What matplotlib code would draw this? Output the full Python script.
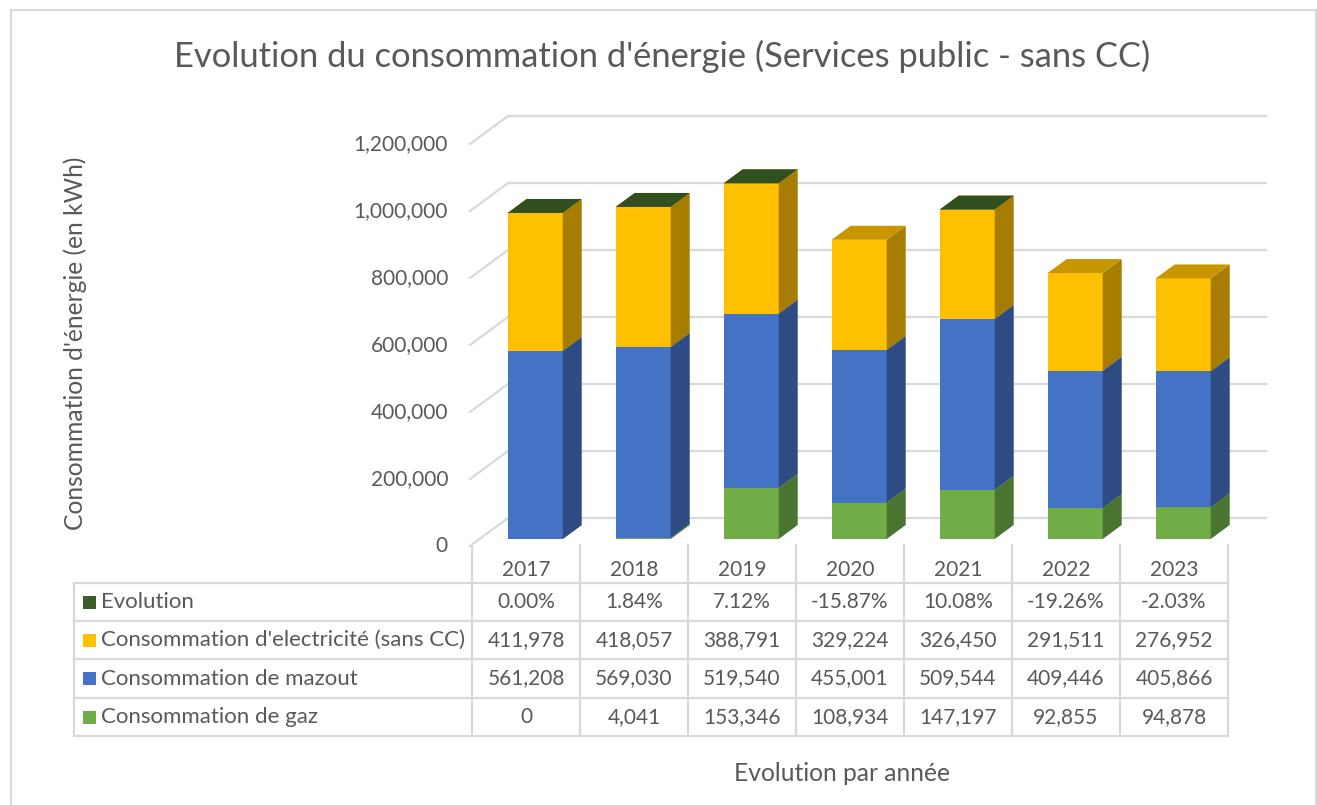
import matplotlib.pyplot as plt
from matplotlib.patches import Polygon, Rectangle
from matplotlib.lines import Line2D

plt.rcParams['font.family'] = ['Lato', 'DejaVu Sans']

# données
annees = ['2017', '2018', '2019', '2020', '2021', '2022', '2023']
gaz = [0, 4041, 153346, 108934, 147197, 92855, 94878]
mazout = [561208, 569030, 519540, 455001, 509544, 409446, 405866]
electricite = [411978, 418057, 388791, 329224, 326450, 291511, 276952]
evolution = [0.0, 0.0184, 0.0712, -0.1587, 0.1008, -0.1926, -0.0203]

noms = ['Evolution', "Consommation d'electricité (sans CC)",
        'Consommation de mazout', 'Consommation de gaz']
yticks = [0, 200000, 400000, 600000, 800000, 1000000, 1200000]

# couleurs (face, côté, dessus)
c_gaz = ('#70AD47', '#4A7530', '#5E9238')
c_maz = ('#4472C4', '#2E4B84', '#3A62A8')
c_ele = ('#FFC000', '#A67D00', '#C79600')
c_evo = ('#3B5E27', '#2C461D', '#324F20')
gris_txt = '#595959'
gris_grille = '#D9D9D9'

W, H = 1317, 805
fig = plt.figure(figsize=(W / 100, H / 100), dpi=100)

def fx(px):
    return px / W

def fy(py):
    return 1 - py / H

# échelle "pixel" de la zone 3D
PX_CAT = 108.0      # px par catégorie
KWH_PX = 2985.0     # kWh par px
X0 = 472            # bord gauche de la première catégorie
Y0 = 539            # base des barres

ax_l, ax_r, ax_t, ax_b = 440, 1290, 95, 560
ax = fig.add_axes([fx(ax_l), fy(ax_b), fx(ax_r - ax_l), fy(ax_t) - fy(ax_b)])
ax.set_xlim(-0.5 + (ax_l - X0) / PX_CAT, -0.5 + (ax_r - X0) / PX_CAT)
ax.set_ylim((Y0 - ax_b) * KWH_PX, (Y0 - ax_t) * KWH_PX)
ax.axis('off')

# profondeur en unités de données
dx = 19 / PX_CAT
dy = 14 * KWH_PX
back_dx = 36 / PX_CAT
back_dy = 21 * KWH_PX
front_dy = -7 * KWH_PX
front_dx = -2 / PX_CAT
x_end = 6.5 + 38 / PX_CAT

# grille (mur du fond + diagonales)
for v in yticks:
    ax.plot([-0.5 + back_dx, x_end], [v + back_dy, v + back_dy],
            color=gris_grille, lw=1.6, zorder=1)
    ax.plot([-0.5 + front_dx, -0.5 + back_dx], [v + front_dy, v + back_dy],
            color=gris_grille, lw=1.6, zorder=1)
    ax.text(-0.5 + (448 - X0) / PX_CAT, v + front_dy, f'{v:,}',
            ha='right', va='center', fontsize=15, color=gris_txt)

def boite(xc, y0, y1, cols, larg=0.51, dessus=True):
    x0, x1 = xc - larg / 2, xc + larg / 2
    ax.add_patch(Polygon([(x0, y0), (x1, y0), (x1, y1), (x0, y1)],
                         closed=True, fc=cols[0], ec='none', zorder=3))
    ax.add_patch(Polygon([(x1, y0), (x1 + dx, y0 + dy), (x1 + dx, y1 + dy), (x1, y1)],
                         closed=True, fc=cols[1], ec='none', zorder=3))
    if dessus:
        ax.add_patch(Polygon([(x0, y1), (x1, y1), (x1 + dx, y1 + dy), (x0 + dx, y1 + dy)],
                             closed=True, fc=cols[2], ec='none', zorder=3))

series = [(gaz, c_gaz), (mazout, c_maz), (electricite, c_ele), (evolution, c_evo)]
for i in range(len(annees)):
    xc = i + 0.085
    pos = 0.0
    for vals, cols in series:
        v = vals[i]
        if v < 0:
            continue
        boite(xc, pos, pos + v, cols)
        pos += v

# cadre extérieur
fig.add_artist(Rectangle((fx(11), fy(810)), fx(1316 - 11), fy(10) - fy(810),
                         transform=fig.transFigure, fill=False,
                         ec=gris_grille, lw=1.5))

# titre et axes
fig.text(fx(662), fy(56), "Evolution du consommation d'énergie (Services public - sans CC)",
         ha='center', va='center', fontsize=24.8, color=gris_txt)
fig.text(fx(75), fy(343), "Consommation d'énergie (en kWh)", rotation=90,
         ha='center', va='center', fontsize=17.7, color=gris_txt)
fig.text(fx(842), fy(773), 'Evolution par année',
         ha='center', va='center', fontsize=17.7, color=gris_txt)

# table de données
col_x = [X0 + PX_CAT * k for k in range(len(annees) + 1)]
rows_y = [583, 621, 659, 698, 736]
tab_l = 74

def ligne(xs, ys):
    fig.add_artist(Line2D([fx(v) for v in xs], [fy(v) for v in ys],
                          color=gris_grille, lw=1.6, transform=fig.transFigure))

for y in rows_y:
    ligne([tab_l, col_x[-1]], [y, y])
ligne([tab_l, tab_l], [rows_y[0], rows_y[-1]])
for x in col_x:
    ligne([x, x], [545, rows_y[-1]])

for k, a in enumerate(annees):
    fig.text(fx(col_x[k] + PX_CAT / 2), fy(570), a, ha='center', va='center',
             fontsize=15, color=gris_txt)

tab_vals = [[f'{v * 100:.2f}%' for v in evolution],
            [f'{v:,}' for v in electricite],
            [f'{v:,}' for v in mazout],
            [f'{v:,}' for v in gaz]]
leg_cols = [c_evo[0], c_ele[0], c_maz[0], c_gaz[0]]

for r in range(4):
    yc = (rows_y[r] + rows_y[r + 1]) / 2
    fig.add_artist(Rectangle((fx(83), fy(yc + 6.5)), fx(13), fy(yc - 6.5) - fy(yc + 6.5),
                             transform=fig.transFigure, fc=leg_cols[r], ec='none'))
    fig.text(fx(101), fy(yc), noms[r], ha='left', va='center',
             fontsize=16, color=gris_txt)
    for k in range(len(annees)):
        fig.text(fx(col_x[k] + PX_CAT / 2), fy(yc), tab_vals[r][k],
                 ha='center', va='center', fontsize=15, color=gris_txt)

fig.savefig('out.png', dpi=100, facecolor='white')
